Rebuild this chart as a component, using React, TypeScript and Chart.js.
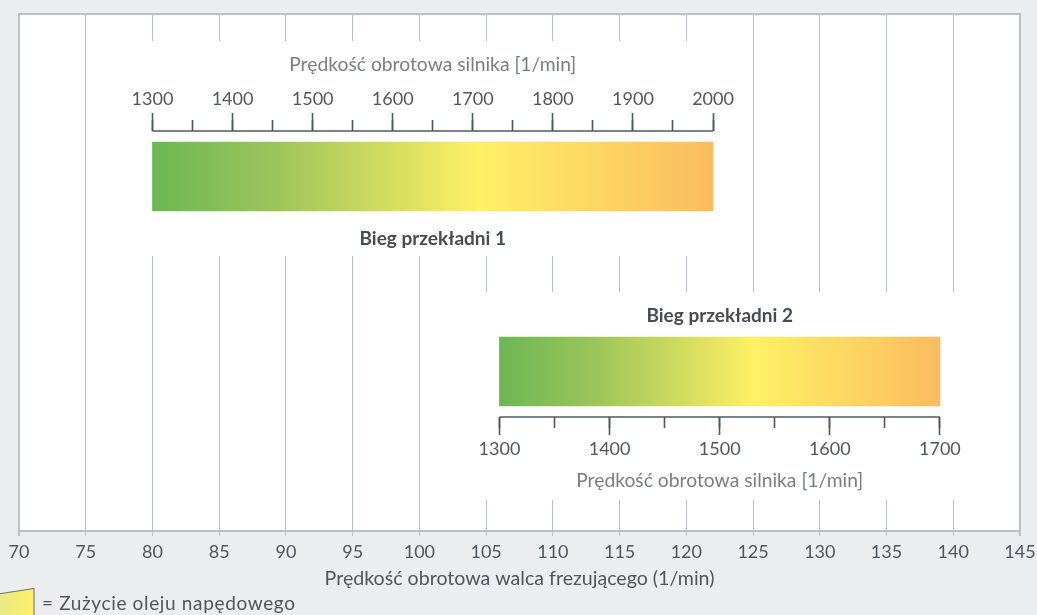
import React, { useEffect, useRef } from 'react';
import { Chart, registerables } from 'chart.js';

Chart.register(...registerables);

// ---------- data ----------
const millTicks = [70, 75, 80, 85, 90, 95, 100, 105, 110, 115, 120, 125, 130, 135, 140, 145];
const gearNames = ['Bieg przekładni 1', 'Bieg przekładni 2'];
const gearMillStart = [80, 106];
const gearMillEnd = [122, 139];
const gearRpmStart = [1300, 1300];
const gearRpmEnd = [2000, 1700];
const rpmMajorStep = 100;
const rpmMinorStep = 50;
const millAxisTitle = 'Prędkość obrotowa walca frezującego (1/min)';
const rpmAxisTitle = 'Prędkość obrotowa silnika [1/min]';
const legendText = '= Zużycie oleju napędowego';

// ---------- layout (vertical positions on a hidden 0..100 scale) ----------
const Y_MIN = 0;
const Y_MAX = 100;
const BAR_Y = [68.57, 30.85];
const RPM_AXIS_Y = [77.37, 22.05];
const NAME_Y = [56.48, 41.59];
const RPM_TITLE_Y = [90.2, 9.67];
const MASKS = [
  { x0: 77.5, x1: 123.5, y0: 53.19, y1: 94.78 },
  { x0: 102.5, x1: 142.5, y0: 6.0, y1: 46.23 },
];

// ---------- styles ----------
const FONT = 'Lato, "Open Sans", "DejaVu Sans", sans-serif';
const BG = '#ebedef';
const GRID = '#b9c0c6';
const AXIS_DARK = '#4f585e';
const TEXT_DARK = '#4f575c';
const TEXT_LIGHT = '#787f84';
const NAME_COLOR = '#454d53';
const GRAD = [
  [0, '#6cb753'],
  [0.22, '#9dc55a'],
  [0.42, '#d3dc60'],
  [0.58, '#fff064'],
  [0.8, '#fdd563'],
  [1, '#fabb5e'],
] as const;

function rpmScale(g: number, step: number, tl: number, pad: number, labels: boolean) {
  const k = (gearRpmEnd[g] - gearRpmStart[g]) / (gearMillEnd[g] - gearMillStart[g]);
  const xMin = millTicks[0];
  const xMax = millTicks[millTicks.length - 1];
  return {
    type: 'linear',
    axis: 'x',
    position: { y: RPM_AXIS_Y[g] },
    min: gearRpmStart[g] + (xMin - gearMillStart[g]) * k,
    max: gearRpmStart[g] + (xMax - gearMillStart[g]) * k,
    offset: false,
    afterBuildTicks: (s: any) => {
      const arr: any[] = [];
      for (let v = gearRpmStart[g]; v <= gearRpmEnd[g] + 1e-6; v += step) arr.push({ value: v });
      s.ticks = arr;
    },
    afterFit: (s: any) => {
      s.paddingLeft = 0;
      s.paddingRight = 0;
      s.paddingTop = 0;
      s.paddingBottom = 0;
    },
    grid: {
      offset: false,
      drawOnChartArea: false,
      drawTicks: true,
      tickLength: tl,
      tickColor: AXIS_DARK,
      tickWidth: 1.6,
      z: 1,
    },
    border: { display: false, z: 1 },
    ticks: {
      display: labels,
      autoSkip: false,
      maxRotation: 0,
      minRotation: 0,
      padding: pad,
      color: TEXT_DARK,
      font: { family: FONT, size: 18 },
      callback: (v: any) => (labels ? String(v) : ''),
      z: 1,
    },
  };
}

const bgPlugin = {
  id: 'bgPlugin',
  beforeDraw(chart: any) {
    const { ctx, chartArea: a } = chart;
    ctx.save();
    ctx.fillStyle = BG;
    ctx.fillRect(0, 0, chart.width, chart.height);
    ctx.fillStyle = '#ffffff';
    ctx.fillRect(a.left, a.top, a.right - a.left, a.bottom - a.top);
    ctx.restore();
  },
  beforeDatasetsDraw(chart: any) {
    const { ctx, chartArea: a, scales } = chart;
    ctx.save();
    ctx.strokeStyle = GRID;
    ctx.lineWidth = 2;
    ctx.beginPath();
    ctx.moveTo(a.left - 1, a.top);
    ctx.lineTo(a.right + 1, a.top);
    ctx.stroke();
    ctx.fillStyle = '#ffffff';
    MASKS.forEach((m) => {
      const x0 = scales.x.getPixelForValue(m.x0);
      const x1 = scales.x.getPixelForValue(m.x1);
      const y0 = scales.y.getPixelForValue(m.y1);
      const y1 = scales.y.getPixelForValue(m.y0);
      ctx.fillRect(x0, y0, x1 - x0, y1 - y0);
    });
    ctx.restore();
  },
  afterDraw(chart: any) {
    const { ctx, scales } = chart;
    ctx.save();
    ctx.textAlign = 'center';
    ctx.textBaseline = 'middle';
    gearNames.forEach((name, i) => {
      const cx = scales.x.getPixelForValue((gearMillStart[i] + gearMillEnd[i]) / 2);
      ctx.fillStyle = NAME_COLOR;
      ctx.font = `bold 19px ${FONT}`;
      ctx.fillText(name, cx, scales.y.getPixelForValue(NAME_Y[i]));
      ctx.fillStyle = TEXT_LIGHT;
      ctx.font = `19.3px ${FONT}`;
      ctx.fillText(rpmAxisTitle, cx, scales.y.getPixelForValue(RPM_TITLE_Y[i]));
    });
    // legend swatch
    const h = chart.height;
    const g = ctx.createLinearGradient(0, 0, 34, 0);
    g.addColorStop(0, '#e6ea86');
    g.addColorStop(1, '#fff064');
    ctx.beginPath();
    ctx.moveTo(-2, 594);
    ctx.lineTo(34, 588.5);
    ctx.lineTo(34, h + 2);
    ctx.lineTo(-2, h + 2);
    ctx.closePath();
    ctx.fillStyle = g;
    ctx.fill();
    ctx.strokeStyle = '#6a6f60';
    ctx.lineWidth = 1;
    ctx.stroke();
    ctx.textAlign = 'left';
    ctx.fillStyle = TEXT_DARK;
    ctx.font = `19px ${FONT}`;
    try {
      (ctx as any).letterSpacing = '0.65px';
    } catch (e) {}
    ctx.fillText(legendText, 42, 604);
    ctx.restore();
  },
};

export default function App() {
  const ref = useRef<HTMLCanvasElement>(null);
  useEffect(() => {
    document.body.style.margin = '0';
    document.body.style.background = BG;
    const canvas = ref.current!;
    const chart = new Chart(canvas, {
      type: 'bar',
      data: {
        datasets: [
          {
            type: 'bar',
            indexAxis: 'y',
            label: 'gears',
            data: gearNames.map((_, i) => ({ y: BAR_Y[i], x: [gearMillStart[i], gearMillEnd[i]] })),
            barThickness: 69,
            borderWidth: 0,
            xAxisID: 'x',
            yAxisID: 'y',
            backgroundColor: (c: any) => {
              const ch = c.chart;
              const xs = ch.scales && ch.scales.x;
              if (!xs || !ch.chartArea || c.dataIndex == null) return '#fff064';
              const i = c.dataIndex;
              const x0 = xs.getPixelForValue(gearMillStart[i]);
              const x1 = xs.getPixelForValue(gearMillEnd[i]);
              const gr = ch.ctx.createLinearGradient(x0, 0, x1, 0);
              GRAD.forEach(([o, col]) => gr.addColorStop(o, col));
              return gr;
            },
          } as any,
          ...gearNames.map((_, g) => ({
            type: 'line',
            label: 'rpmAxis' + g,
            data: [
              { x: gearMillStart[g], y: RPM_AXIS_Y[g] },
              { x: gearMillEnd[g], y: RPM_AXIS_Y[g] },
            ],
            borderColor: AXIS_DARK,
            borderWidth: 1.6,
            pointRadius: 0,
            xAxisID: 'x',
            yAxisID: 'y',
          } as any)),
        ],
      },
      options: {
        animation: false,
        responsive: false,
        maintainAspectRatio: false,
        layout: { padding: { left: 19, right: 17, top: 14, bottom: 0 } },
        plugins: { legend: { display: false }, tooltip: { enabled: false } },
        scales: {
          x: {
            type: 'linear',
            position: 'bottom',
            min: millTicks[0],
            max: millTicks[millTicks.length - 1],
            offset: false,
            afterBuildTicks: (s: any) => {
              s.ticks = millTicks.map((v) => ({ value: v }));
            },
            afterFit: (s: any) => {
              s.height = 84;
              s.paddingLeft = 0;
              s.paddingRight = 0;
            },
            grid: {
              color: GRID,
              lineWidth: (c: any) =>
                c.tick && (c.tick.value === millTicks[0] || c.tick.value === millTicks[millTicks.length - 1]) ? 2 : 1,
              tickLength: 5,
              tickColor: GRID,
              offset: false,
            },
            border: { color: GRID, width: 2 },
            ticks: {
              autoSkip: false,
              maxRotation: 0,
              minRotation: 0,
              padding: 5,
              color: TEXT_DARK,
              font: { family: FONT, size: 18 },
              callback: (v: any) => String(v),
            },
            title: {
              display: true,
              text: millAxisTitle,
              color: TEXT_DARK,
              font: { family: FONT, size: 19.6 },
              padding: { top: 0, bottom: 25 },
            },
          },
          y: {
            type: 'linear',
            min: Y_MIN,
            max: Y_MAX,
            display: false,
            offset: false,
          },
          rpm1Major: rpmScale(0, rpmMajorStep, -18, -24.2, true),
          rpm1Minor: rpmScale(0, rpmMinorStep, -11, 0, false),
          rpm2Major: rpmScale(1, rpmMajorStep, 18, 3.8, true),
          rpm2Minor: rpmScale(1, rpmMinorStep, 11, 0, false),
        } as any,
      } as any,
      plugins: [bgPlugin],
    });
    return () => chart.destroy();
  }, []);
  return (
    <div style={{ width: 1037, height: 615, background: BG }}>
      <canvas ref={ref} width={1037} height={615} style={{ display: 'block', width: 1037, height: 615 }} />
    </div>
  );
}
